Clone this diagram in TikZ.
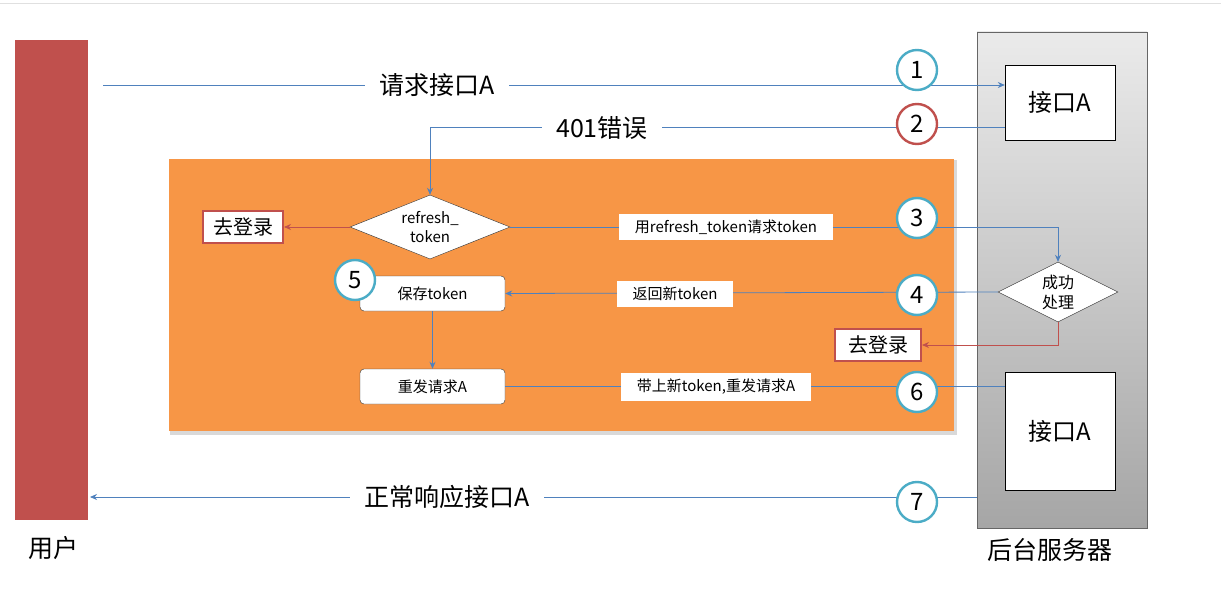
\documentclass[tikz,border=0pt]{standalone}
\usepackage{fontspec}
\setmainfont{Noto Sans CJK SC}
\usetikzlibrary{shapes.geometric,arrows.meta}
\definecolor{bl}{HTML}{4F81BD}
\definecolor{rd}{HTML}{C0504D}
\definecolor{tl}{HTML}{4BACC6}
\definecolor{org}{HTML}{F79646}
\begin{document}
\begin{tikzpicture}[x=1pt,y=-1pt,
 conn/.style={draw=bl,line width=0.8pt},
 arr/.style={conn,-{Stealth[length=7pt,width=6pt]}},
 rarr/.style={draw=rd,line width=0.8pt,-{Stealth[length=7pt,width=6pt]}},
 lab/.style={fill=white,inner xsep=16pt,inner ysep=6pt,font=\fontsize{15}{18}\selectfont},
 big/.style={fill=white,inner xsep=14pt,inner ysep=3pt,font=\fontsize{25}{30}\selectfont},
 num/.style={circle,draw=tl,line width=2.4pt,fill=white,minimum size=40pt,inner sep=0pt,font=\fontsize{24}{28}\selectfont},
 box/.style={draw=black!80,fill=white,rounded corners=4pt,minimum width=145pt,minimum height=35pt,font=\fontsize{15}{18}\selectfont},
 iface/.style={draw=black,fill=white,font=\fontsize{24}{28}\selectfont},
 login/.style={draw=rd,line width=2pt,fill=white,font=\fontsize{20}{24}\selectfont,minimum width=80pt,minimum height=32pt,inner xsep=4pt},
 dia/.style={diamond,draw=black!80,fill=white,inner sep=0pt},
 dtxt/.style={align=center,font=\fontsize{15}{19}\selectfont}]
\useasboundingbox (0,0) rectangle (1221,591);
\fill[white] (0,0) rectangle (1221,591);
\draw[black!12] (0,3) -- (1221,3);
% user bar
\node[fill=rd,minimum width=73pt,minimum height=480pt,inner sep=0pt] (user) at (51.5,280) {};
\node[font=\fontsize{25}{30}\selectfont] (ulab) at (53,548) {用户};
% server
\node[draw=black!60,minimum width=170pt,minimum height=496pt,inner sep=0pt,top color=black!8,bottom color=black!35] (srv) at (1062,280) {};
\node[font=\fontsize{25}{30}\selectfont] (slab) at (1050,550) {后台服务器};
\node[iface,minimum width=110pt,minimum height=75pt] (ia) at (1060,102.5) {接口A};
\node[iface,minimum width=110pt,minimum height=118pt] (ib) at (1060,431) {接口A};
% orange area
\fill[black!15] (170,160) rectangle (957,435);
\node[fill=org,minimum width=785pt,minimum height=272pt,inner sep=0pt] (area) at (561.5,295) {};
% nodes
\node[dia,minimum width=160pt,minimum height=64pt] (rt) at (430,227) {};
\node[dtxt] (rtt) at (rt.center) {refresh\_\\token};
\node[login] (lg1) at (243,227) {去登录};
\node[dia,minimum width=120pt,minimum height=60pt] (ok) at (1058,292) {};
\node[dtxt,font=\fontsize{16}{20}\selectfont] (okt) at (ok.center) {成功\\处理};
\node[login,minimum width=86pt] (lg2) at (878,345) {去登录};
\node[box] (save) at (432.5,293.5) {保存token};
\node[box] (re) at (432.5,386.5) {重发请求A};
% 1
\coordinate (s1) at (103,85);
\draw[arr] (s1) -- (ia.west |- s1);
\node[big] (l1) at (437,85) {请求接口A};
\node[num] (n1) at (917,70) {1};
% 2
\coordinate (c2) at (430,127);
\draw[arr] (ia.west |- c2) -- (c2) -- (rt.north);
\node[big] (l2) at (602,128) {401错误};
\node[num,draw=rd] (n2) at (917,124) {2};
% login 1
\draw[rarr] (rt.west) -- (lg1.east);
% 3
\coordinate (c3) at (1058,227);
\draw[arr] (rt.east) -- (c3) -- (ok.north);
\node[lab] (l3) at (726,227) {用refresh\_token请求token};
\node[num] (n3) at (917,218) {3};
% 4
\draw[arr] (ok.west) -- (save.east);
\node[lab] (l4) at (675,294) {返回新token};
\node[num] (n4) at (917,295) {4};
\node[num] (n5) at (355,280) {5};
% login 2
\coordinate (c4) at (1058,345);
\draw[rarr] (ok.south) -- (c4) -- (lg2.east);
% save->re
\draw[arr] (save.south) -- (re.north);
% 6
\draw[conn] (re.east) -- (ib.west |- re.east);
\node[lab] (l6) at (716,387) {带上新token,重发请求A};
\node[num] (n6) at (917,392) {6};
% 7
\coordinate (s7) at (977,497);
\coordinate (e7) at (90,497);
\draw[arr] (s7) -- (e7);
\node[big] (l7) at (447,497) {正常响应接口A};
\node[num] (n7) at (917,502) {7};
\end{tikzpicture}
\end{document}
